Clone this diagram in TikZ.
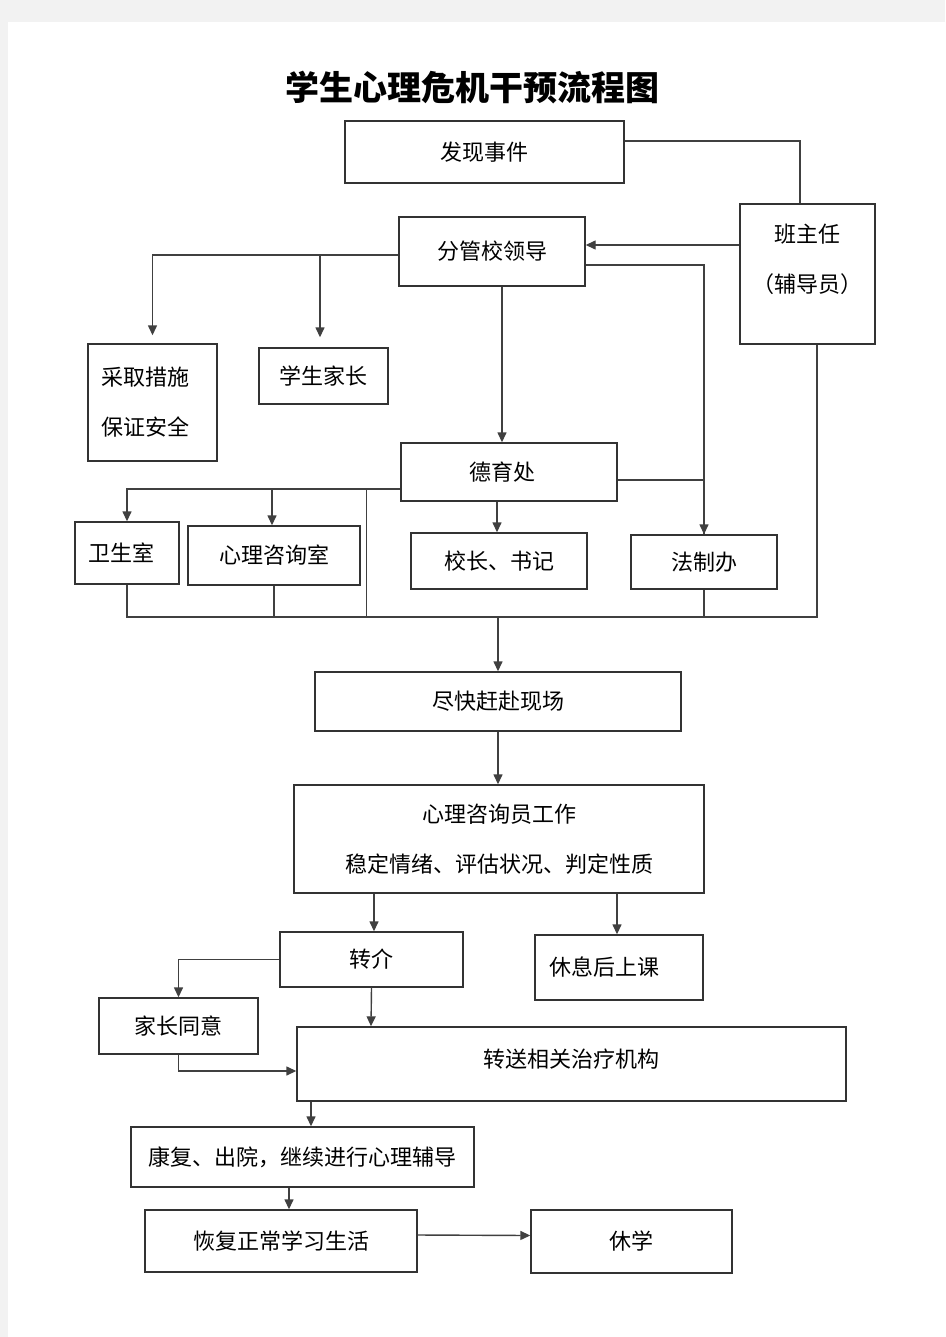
\documentclass[tikz,border=0pt]{standalone}
\usepackage{fontspec}
\setmainfont{Noto Sans CJK SC}
\newfontfamily\cjk{Noto Sans CJK SC}
\usetikzlibrary{arrows.meta,positioning,calc}
\tikzset{>={Triangle[length=10pt,width=9pt]}}
\tikzset{
  box/.style={draw=black!80, line width=1.4pt, fill=white,
    font=\cjk\fontsize{22pt}{26pt}\selectfont},
  twolines/.style={font=\cjk\fontsize{22pt}{50pt}\selectfont},
  link/.style={draw=black!75, line width=1.4pt}
}

\begin{document}
\begin{tikzpicture}[x=1pt,y=-1pt]
% page
\useasboundingbox (0,0) rectangle (945,1337);
\fill[black!5] (0,0) rectangle (945,1337);
\fill[white] (8,22) rectangle (945,1337);

\node[font=\cjk\bfseries\fontsize{34pt}{38pt}\selectfont] (title) at (472,88) {学生心理危机干预流程图};

% boxes
\node[box, minimum width=279pt, minimum height=62pt] (find) at (484.5,152) {发现事件};
\node[box, minimum width=135pt, minimum height=140pt,
  label={[anchor=north, yshift=-17pt, align=center, twolines]north:{班主任\\（辅导员）}}] (tutor) at (807.5,274) {};
\node[box, minimum width=186pt, minimum height=69pt] (leader) at (492,251.5) {分管校领导};
\node[box, twolines, minimum width=129pt, minimum height=117pt, text width=103pt, align=left] (measure) at (152.5,402.5) {采取措施\\保证安全};
\node[box, minimum width=129pt, minimum height=56pt] (parent) at (323.5,376) {学生家长};
\node[box, minimum width=216pt, minimum height=58pt, text width=80pt] (moral) at (509,472) {德育处};
\node[box, minimum width=104pt, minimum height=62pt, text width=78pt] (clinic) at (127,553) {卫生室};
\node[box, minimum width=172pt, minimum height=59pt] (psyroom) at (274,555.5) {心理咨询室};
\node[box, minimum width=176pt, minimum height=56pt] (principal) at (499,561) {校长、书记};
\node[box, minimum width=146pt, minimum height=54pt] (legal) at (704,562) {法制办};
\node[box, minimum width=366pt, minimum height=59pt] (rush) at (498,701.5) {尽快赶赴现场};
\node[box, twolines, minimum width=410pt, minimum height=108pt, align=center] (counsel) at (499,839) {心理咨询员工作\\稳定情绪、评估状况、判定性质};
\node[box, minimum width=183pt, minimum height=55pt] (refer) at (371.5,959.5) {转介};
\node[box, minimum width=168pt, minimum height=65pt, text width=140pt] (rest) at (619,967.5) {休息后上课};
\node[box, minimum width=159pt, minimum height=56pt] (consent) at (178.5,1026) {家长同意};
\node[box, minimum width=549pt, minimum height=74pt, text depth=11pt] (transfer) at (571.5,1064) {转送相关治疗机构};
\node[box, minimum width=343pt, minimum height=60pt] (recover) at (302.5,1157) {康复、出院，继续进行心理辅导};
\node[box, minimum width=272pt, minimum height=62pt] (normal) at (281,1241) {恢复正常学习生活};
\node[box, minimum width=201pt, minimum height=63pt] (suspend) at (631.5,1241.5) {休学};

\coordinate (bus) at (498,617);

% connectors
\draw[link] ([yshift=11pt]find.east) -| ([xshift=-7.5pt]tutor.north);
\draw[link,->] ([yshift=29pt]tutor.west) -- ([yshift=29pt]tutor.west -| leader.east);
\draw[link,->,shorten >=8pt] ([yshift=-3.5pt]leader.west) -| (measure.north);
\draw[link,->,shorten >=10pt] ([yshift=-3.5pt]leader.west) -| ([xshift=-3.5pt]parent.north);
\draw[link,->] ([yshift=-13.5pt]leader.east) -| (legal.north);
\draw[link,->] ([xshift=10pt]leader.south) -- ([xshift=-7pt]moral.north);
\draw[link,->] ([yshift=-17pt]moral.west) -| (clinic.north);
\draw[link,->] ([yshift=-17pt]moral.west) -| ([xshift=-2pt]psyroom.north);
\draw[link] ([yshift=-8pt]moral.east) -| (legal.north);
\draw[link,->] ([xshift=-12pt]moral.south) -- ([xshift=-2pt]principal.north);
\draw[link] (clinic.south) |- (bus);
\draw[link] (psyroom.south) |- (bus);
\draw[link] ([xshift=-34pt,yshift=-17pt]moral.west) |- (bus);
\draw[link] (legal.south) |- (bus);
\draw[link] ([xshift=9.5pt]tutor.south) |- (bus);
\draw[link,->] (bus) -- (rush.north);
\draw[link,->] (rush.south) -- ([xshift=-1pt]counsel.north);
\draw[link,->] ([xshift=-125pt]counsel.south) -- ([xshift=2.5pt]refer.north);
\draw[link,->] ([xshift=118pt]counsel.south) -- ([xshift=-2pt]rest.north);
\draw[link,->] (refer.west) -| (consent.north);
\draw[link,->] (refer.south) -- ([xshift=-200.5pt]transfer.north);
\draw[link,->] (consent.south) |- ([yshift=-7pt]transfer.west);
\draw[link,->] ([xshift=-260.5pt]transfer.south) -- ([xshift=8.5pt]recover.north);
\draw[link,->] ([xshift=-13.5pt]recover.south) -- ([xshift=8pt]normal.north);
\draw[link,->] ([yshift=6pt]normal.east) -- ([yshift=6pt]suspend.west);
\end{tikzpicture}
\end{document}
